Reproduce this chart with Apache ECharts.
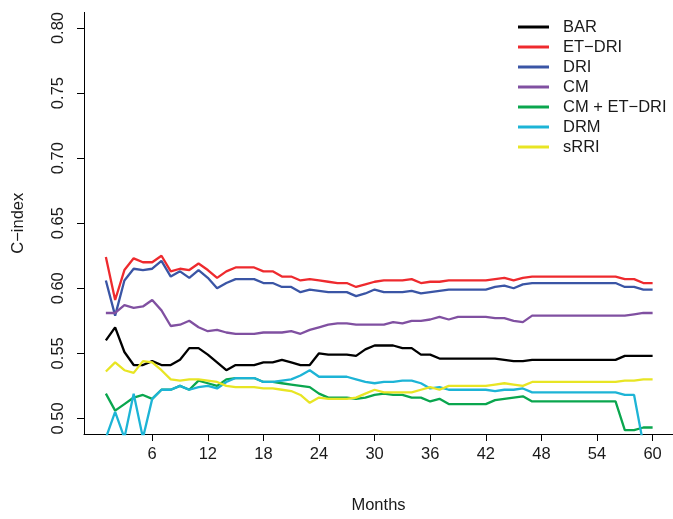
<!DOCTYPE html>
<html>
<head>
<meta charset="utf-8">
<script src="https://cdn.jsdelivr.net/npm/echarts@6/dist/echarts.min.js"></script>
<style>
html,body{margin:0;padding:0;background:#fff;}
#chart{width:673px;height:519px;}
</style>
</head>
<body>
<div id="chart"></div>
<script>
var months = [];
for (var i = 1; i <= 60; i++) months.push(i);

var xTicks = [6, 12, 18, 24, 30, 36, 42, 48, 54, 60];
var yTicks = [0.50, 0.55, 0.60, 0.65, 0.70, 0.75, 0.80];

var seriesNames = ["BAR", "ET\u2212DRI", "DRI", "CM", "CM + ET\u2212DRI", "DRM", "sRRI"];
var seriesColors = ["#000000", "#EE2A2E", "#3A55A5", "#8050A1", "#0AA64E", "#1DB4D6", "#E8E524"];

var bar = [0.560,0.570,0.551,0.541,0.541,0.544,0.541,0.541,0.545,0.554,
           0.554,0.549,0.543,0.537,0.541,0.541,0.541,0.543,0.543,0.545,
           0.543,0.541,0.541,0.550,0.549,0.549,0.549,0.548,0.553,0.556,
           0.556,0.556,0.554,0.554,0.549,0.549,0.546,0.546,0.546,0.546,
           0.546,0.546,0.546,0.545,0.544,0.544,0.545,0.545,0.545,0.545,
           0.545,0.545,0.545,0.545,0.545,0.545,0.548,0.548,0.548,0.548];
var etdri = [0.624,0.591,0.614,0.623,0.620,0.620,0.625,0.613,0.615,0.614,
             0.619,0.614,0.608,0.613,0.616,0.616,0.616,0.613,0.613,0.609,
             0.609,0.606,0.607,0.606,0.605,0.604,0.604,0.601,0.603,0.605,
             0.606,0.606,0.606,0.607,0.604,0.605,0.605,0.606,0.606,0.606,
             0.606,0.606,0.607,0.608,0.606,0.608,0.609,0.609,0.609,0.609,
             0.609,0.609,0.609,0.609,0.609,0.609,0.607,0.607,0.604,0.604];
var dri = [0.606,0.579,0.606,0.615,0.614,0.615,0.621,0.609,0.613,0.608,
           0.614,0.608,0.600,0.604,0.607,0.607,0.607,0.604,0.604,0.601,
           0.601,0.597,0.599,0.598,0.597,0.597,0.597,0.594,0.596,0.599,
           0.597,0.597,0.597,0.598,0.596,0.597,0.598,0.599,0.599,0.599,
           0.599,0.599,0.601,0.602,0.600,0.603,0.604,0.604,0.604,0.604,
           0.604,0.604,0.604,0.604,0.604,0.604,0.601,0.601,0.599,0.599];
var cm = [0.581,0.581,0.587,0.585,0.586,0.591,0.583,0.571,0.572,0.575,
          0.570,0.567,0.568,0.566,0.565,0.565,0.565,0.566,0.566,0.566,
          0.567,0.565,0.568,0.570,0.572,0.573,0.573,0.572,0.572,0.572,
          0.572,0.574,0.573,0.575,0.575,0.576,0.578,0.576,0.578,0.578,
          0.578,0.578,0.577,0.577,0.575,0.574,0.579,0.579,0.579,0.579,
          0.579,0.579,0.579,0.579,0.579,0.579,0.579,0.580,0.581,0.581];
var cmEtdri = [0.519,0.506,0.511,0.516,0.518,0.515,0.522,0.522,0.525,0.522,
               0.529,0.527,0.525,0.530,0.531,0.531,0.531,0.528,0.528,0.527,
               0.526,0.525,0.524,0.519,0.516,0.516,0.516,0.515,0.516,0.518,
               0.519,0.518,0.518,0.516,0.516,0.513,0.515,0.511,0.511,0.511,
               0.511,0.511,0.514,0.515,0.516,0.517,0.513,0.513,0.513,0.513,
               0.513,0.513,0.513,0.513,0.513,0.513,0.491,0.491,0.493,0.493];
var drm = [0.485,0.505,0.485,0.519,0.485,0.515,0.522,0.522,0.525,0.522,
           0.524,0.525,0.523,0.528,0.531,0.531,0.531,0.528,0.528,0.529,
           0.530,0.533,0.537,0.532,0.532,0.532,0.532,0.530,0.528,0.527,
           0.528,0.528,0.529,0.529,0.527,0.523,0.524,0.522,0.522,0.522,
           0.522,0.522,0.521,0.522,0.522,0.523,0.520,0.520,0.520,0.520,
           0.520,0.520,0.520,0.520,0.520,0.520,0.518,0.518,0.480,0.480];
var srri = [0.536,0.543,0.537,0.535,0.544,0.543,0.537,0.530,0.529,0.530,
            0.530,0.529,0.528,0.525,0.524,0.524,0.524,0.523,0.523,0.522,
            0.521,0.518,0.512,0.516,0.515,0.515,0.515,0.516,0.519,0.522,
            0.520,0.520,0.520,0.520,0.522,0.524,0.522,0.525,0.525,0.525,
            0.525,0.525,0.526,0.527,0.526,0.525,0.528,0.528,0.528,0.528,
            0.528,0.528,0.528,0.528,0.528,0.528,0.529,0.529,0.530,0.530];

var seriesValues = [bar, etdri, dri, cm, cmEtdri, drm, srri];

var FONT = "Liberation Sans, Arial, sans-serif";
var FS = 16.5;

function pairs(vals) {
  return months.map(function (m, i) { return [m, vals[i]]; });
}

var series = seriesNames.map(function (name, k) {
  return {
    name: name,
    type: 'line',
    data: pairs(seriesValues[k]),
    showSymbol: false,
    symbol: 'none',
    clip: true,
    lineStyle: { color: seriesColors[k], width: 2.3 },
    itemStyle: { color: seriesColors[k] },
    emphasis: { disabled: true },
    z: 2 + k
  };
});

var chart = echarts.init(document.getElementById('chart'), null, { renderer: 'canvas' });
chart.setOption({
  animation: false,
  backgroundColor: '#ffffff',
  grid: { left: 84, right: 0, top: 12.4, bottom: 80, containLabel: false },
  legend: {
    orient: 'vertical',
    left: 518,
    top: 17,
    padding: 0,
    itemGap: 0,
    itemWidth: 31,
    itemHeight: 3,
    icon: 'rect',
    data: seriesNames,
    textStyle: { fontFamily: FONT, fontSize: FS, color: '#1a1a1a', lineHeight: 20, padding: [0, 0, 0, 9] }
  },
  xAxis: {
    type: 'value',
    min: -1.36,
    max: 62.2,
    name: 'Months',
    nameLocation: 'middle',
    nameGap: 63,
    nameTextStyle: { fontFamily: FONT, fontSize: FS, color: '#1a1a1a' },
    splitLine: { show: false },
    axisLine: { show: true, onZero: false, lineStyle: { color: '#000', width: 1 } },
    axisTick: { show: true, customValues: xTicks, length: 7, lineStyle: { color: '#000' } },
    axisLabel: { customValues: xTicks, fontFamily: FONT, fontSize: FS, color: '#1a1a1a', margin: 12 }
  },
  yAxis: {
    type: 'value',
    min: 0.488,
    max: 0.812,
    name: 'C\u2212index',
    nameLocation: 'middle',
    nameGap: 57,
    nameRotate: 90,
    nameTextStyle: { fontFamily: FONT, fontSize: FS, color: '#1a1a1a' },
    splitLine: { show: false },
    axisLine: { show: true, onZero: false, lineStyle: { color: '#000', width: 1 } },
    axisTick: { show: true, customValues: yTicks, length: 7, lineStyle: { color: '#000' } },
    axisLabel: {
      customValues: yTicks,
      rotate: 90,
      fontFamily: FONT, fontSize: FS, color: '#1a1a1a', margin: 17,
      formatter: function (v) { return v.toFixed(2); }
    }
  },
  series: series
});
</script>
</body>
</html>
